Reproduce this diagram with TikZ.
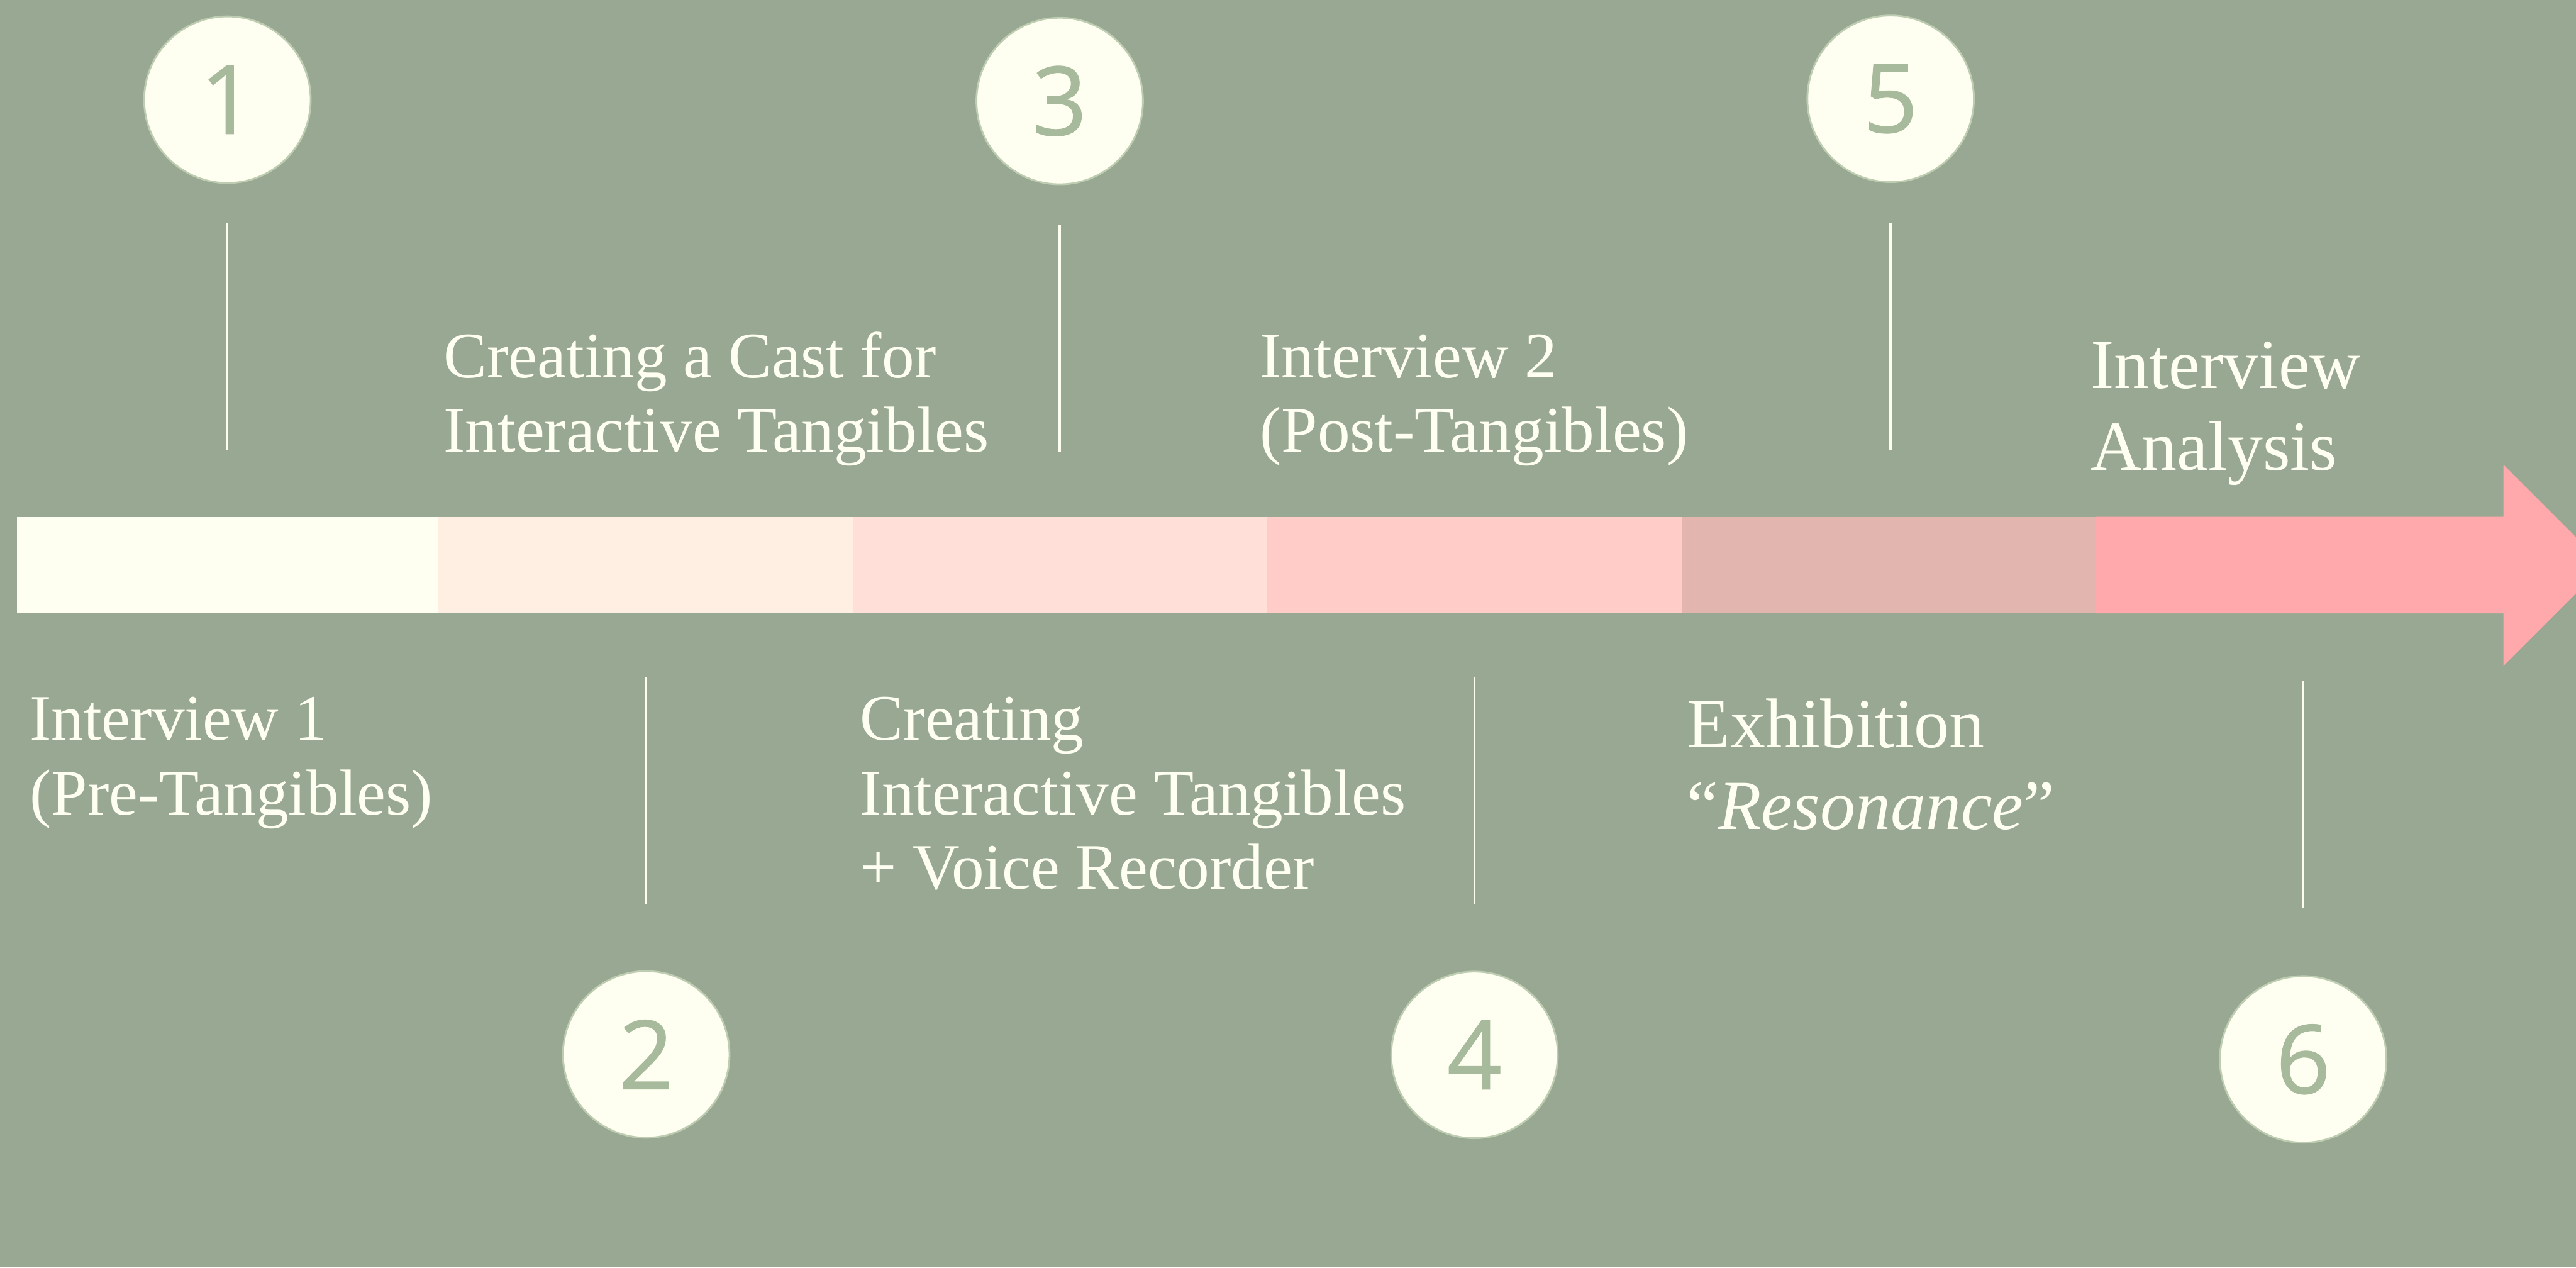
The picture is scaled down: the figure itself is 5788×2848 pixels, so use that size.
\documentclass[tikz,border=0pt]{standalone}
\usepackage{fontspec}
\setmainfont{Liberation Serif}
\newfontfamily\numfont[FakeBold=0.8]{Open Sans}
\definecolor{sage}{RGB}{152,168,146}
\definecolor{cream}{RGB}{254,255,240}
\definecolor{digit}{RGB}{168,186,156}
\definecolor{ring}{RGB}{190,205,178}
\definecolor{segA}{RGB}{254,255,240}
\definecolor{segB}{RGB}{255,239,226}
\definecolor{segC}{RGB}{255,223,216}
\definecolor{segD}{RGB}{255,204,199}
\definecolor{segE}{RGB}{226,182,175}
\definecolor{segF}{RGB}{255,169,172}
\tikzset{
  stepnum/.style={circle, minimum size=3.74cm, inner sep=0pt, fill=cream,
    draw=ring, line width=0.04cm, text=digit,
    font=\numfont\fontsize{61}{61}\selectfont},
  tick/.style={draw=cream, line width=0.05cm},
  % anchored on the baseline of the last line
  lbl/.style={anchor=base west, inner sep=0pt, align=left, text=cream,
    font=\fontsize{41.5}{47.5}\selectfont},
  biglbl/.style={lbl, font=\fontsize{45}{52.3}\selectfont}
}
\begin{document}
\begin{tikzpicture}[x=0.01cm, y=-0.01cm]
\useasboundingbox (0,0) rectangle (5788,2848);
\clip (0,0) rectangle (5788,2848);
\fill[sage] (0,0) rectangle (5788,2848);

% timeline bar, one tint per phase
\fill[segA] (38,1161) rectangle (986,1378);
\fill[segB] (985,1161) rectangle (1917,1378);
\fill[segC] (1916,1161) rectangle (2847,1378);
\fill[segD] (2846,1161) rectangle (3781,1378);
\fill[segE] (3780,1161) rectangle (4711,1378);
\fill[segF] (4710,1161) -- (5625,1161) -- (5625,1044) -- (5851,1270)
  -- (5625,1496) -- (5625,1378) -- (4710,1378) -- cycle;

% numbered phase markers
\node[stepnum] (c1) at (511,224) {1};
\node[stepnum] (c3) at (2381,227) {3};
\node[stepnum] (c5) at (4248,222) {5};
\node[stepnum] (c2) at (1452,2369) {2};
\node[stepnum] (c4) at (3313,2370) {4};
\node[stepnum] (c6) at (5175,2380) {6};

% ticks between markers and the bar
\draw[tick] (c1.center |- 0,500) -- (c1.center |- 0,1010);
\draw[tick] (c3.center |- 0,505) -- (c3.center |- 0,1015);
\draw[tick] (c5.center |- 0,500) -- (c5.center |- 0,1010);
\draw[tick] (c2.center |- 0,1521) -- (c2.center |- 0,2032);
\draw[tick] (c4.center |- 0,1521) -- (c4.center |- 0,2032);
\draw[tick] (c6.center |- 0,1530) -- (c6.center |- 0,2041);

% phase labels
\node[lbl] (t1) at (66,1830) {Interview 1\\(Pre-Tangibles)};
\node[lbl] (t2) at (996,1015) {Creating a Cast for\\Interactive Tangibles};
\node[lbl] (t3) at (1932,1997) {Creating\\Interactive Tangibles\\+ Voice Recorder};
\node[lbl] (t4) at (2830,1015) {Interview 2\\(Post-Tangibles)};
\node[biglbl] (t5) at (3790,1863) {Exhibition\\“\textit{Resonance}”};
\node[biglbl] (t6) at (4697,1056) {Interview\\Analysis};
\end{tikzpicture}
\end{document}
